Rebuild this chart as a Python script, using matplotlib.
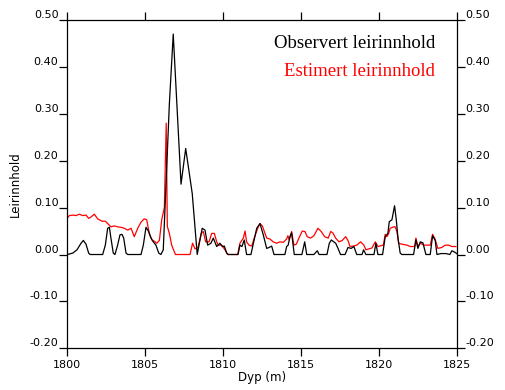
import matplotlib
matplotlib.use("Agg")
import matplotlib.pyplot as plt
from matplotlib.ticker import FormatStrFormatter

plt.rcParams['axes.unicode_minus'] = False

# observed clay content (depth in m, fraction)
obs_depth = [1800.00, 1800.35, 1800.62, 1800.88, 1801.03, 1801.20, 1801.37, 1801.46,
             1802.27, 1802.44, 1802.59, 1802.70, 1802.80, 1802.95, 1803.06,
             1803.23, 1803.38, 1803.51, 1803.62, 1803.77, 1803.88,
             1804.73, 1804.88, 1805.05, 1805.22, 1805.37, 1805.52, 1805.69, 1805.87,
             1806.01, 1806.16, 1806.55, 1806.80, 1807.30, 1807.60, 1808.02, 1808.34,
             1808.66, 1808.84, 1809.01, 1809.22, 1809.37, 1809.59, 1809.80, 1809.95,
             1810.08, 1810.23, 1810.33, 1810.96, 1811.08, 1811.21, 1811.36, 1811.51,
             1811.79, 1811.92, 1812.16, 1812.37, 1812.58, 1812.80, 1812.95, 1813.12,
             1813.27, 1813.97, 1814.08, 1814.18, 1814.29, 1814.40, 1814.57,
             1815.06, 1815.24, 1815.37, 1815.83, 1816.05, 1816.16,
             1816.67, 1816.82, 1816.95, 1817.07, 1817.23, 1817.38, 1817.54,
             1817.83, 1818.02, 1818.22, 1818.40, 1818.58, 1818.92, 1819.02, 1819.17,
             1819.69, 1819.81, 1819.94, 1820.24, 1820.41, 1820.58, 1820.67, 1820.84,
             1821.01, 1821.12, 1821.23, 1821.37, 1821.48, 1822.23, 1822.38, 1822.51,
             1822.66, 1822.83, 1823.02, 1823.30, 1823.45, 1823.62, 1823.73,
             1823.99, 1824.31, 1824.56, 1824.69, 1824.87, 1825.00]
obs_clay = [0.000, 0.003, 0.010, 0.024, 0.030, 0.022, 0.003, 0.000,
            0.000, 0.020, 0.056, 0.058, 0.035, 0.003, 0.000,
            0.020, 0.042, 0.043, 0.035, 0.003, 0.000,
            0.000, 0.020, 0.058, 0.049, 0.035, 0.027, 0.020, 0.003,
            0.000, 0.010, 0.320, 0.470, 0.150, 0.226, 0.130, 0.000,
            0.056, 0.052, 0.020, 0.024, 0.035, 0.017, 0.024, 0.017,
            0.018, 0.003, 0.000, 0.000, 0.020, 0.017, 0.031, 0.000,
            0.000, 0.020, 0.056, 0.066, 0.042, 0.013, 0.015, 0.018,
            0.000, 0.000, 0.017, 0.020, 0.038, 0.046, 0.000,
            0.000, 0.027, 0.000, 0.000, 0.008, 0.000,
            0.000, 0.024, 0.031, 0.028, 0.024, 0.013, 0.000,
            0.000, 0.015, 0.013, 0.017, 0.000, 0.000, 0.010, 0.000,
            0.000, 0.024, 0.000, 0.000, 0.038, 0.045, 0.070, 0.074,
            0.104, 0.074, 0.035, 0.003, 0.000, 0.000, 0.031, 0.013,
            0.027, 0.025, 0.000, 0.000, 0.040, 0.030, 0.000,
            0.002, 0.002, 0.000, 0.008, 0.005, 0.002]

# estimated clay content
est_depth = [1800.00, 1800.13, 1800.35, 1800.56, 1800.77, 1800.99, 1801.20, 1801.37,
             1801.52, 1801.73, 1801.95, 1802.23, 1802.44, 1802.59, 1802.80, 1803.02,
             1803.23, 1803.45, 1803.66, 1803.88, 1804.09, 1804.30, 1804.52, 1804.73,
             1804.94, 1805.10, 1805.26, 1805.44, 1805.60, 1805.74, 1805.91, 1806.06,
             1806.23, 1806.35, 1806.42, 1806.55, 1806.70, 1806.94, 1807.88, 1808.04,
             1808.20, 1808.39, 1808.60, 1808.73, 1808.88, 1809.10, 1809.27, 1809.44,
             1809.59, 1809.69, 1809.91, 1810.12, 1810.30, 1810.94, 1811.08, 1811.30,
             1811.41, 1811.51, 1811.66, 1811.84, 1812.00, 1812.22, 1812.37, 1812.52,
             1812.69, 1812.80, 1813.01, 1813.22, 1813.44, 1813.65, 1813.87, 1814.08,
             1814.16, 1814.25, 1814.40, 1814.55, 1814.70, 1814.87, 1815.08, 1815.26,
             1815.40, 1815.62, 1815.83, 1816.09, 1816.30, 1816.52, 1816.75, 1816.91,
             1817.05, 1817.23, 1817.44, 1817.65, 1817.87, 1818.02, 1818.15, 1818.36,
             1818.58, 1818.83, 1819.04, 1819.17, 1819.36, 1819.56, 1819.77, 1819.94,
             1820.15, 1820.29, 1820.41, 1820.52, 1820.63, 1820.73, 1820.95, 1821.05,
             1821.16, 1821.27, 1821.48, 1821.80, 1822.02, 1822.30, 1822.38, 1822.51,
             1822.66, 1822.88, 1823.09, 1823.30, 1823.45, 1823.62, 1823.79, 1824.04,
             1824.26, 1824.48, 1824.69, 1824.95]
est_clay = [0.078, 0.083, 0.084, 0.083, 0.086, 0.083, 0.084, 0.077,
            0.080, 0.086, 0.076, 0.071, 0.071, 0.066, 0.059, 0.061,
            0.059, 0.058, 0.056, 0.052, 0.056, 0.038, 0.056, 0.069,
            0.076, 0.074, 0.045, 0.031, 0.028, 0.024, 0.030, 0.074,
            0.100, 0.280, 0.060, 0.045, 0.020, 0.000, 0.000, 0.024,
            0.012, 0.015, 0.045, 0.049, 0.027, 0.027, 0.045, 0.045,
            0.027, 0.020, 0.020, 0.010, 0.000, 0.000, 0.024, 0.035,
            0.050, 0.027, 0.020, 0.018, 0.035, 0.056, 0.066, 0.061,
            0.045, 0.035, 0.033, 0.027, 0.024, 0.027, 0.026, 0.033,
            0.040, 0.031, 0.049, 0.020, 0.022, 0.035, 0.050, 0.049,
            0.038, 0.035, 0.040, 0.056, 0.049, 0.038, 0.035, 0.049,
            0.046, 0.035, 0.027, 0.030, 0.038, 0.030, 0.017, 0.018,
            0.020, 0.027, 0.020, 0.010, 0.012, 0.014, 0.027, 0.017,
            0.019, 0.020, 0.043, 0.038, 0.045, 0.056, 0.059, 0.059,
            0.049, 0.024, 0.022, 0.020, 0.017, 0.017, 0.035, 0.017,
            0.024, 0.020, 0.020, 0.020, 0.043, 0.032, 0.013, 0.015,
            0.020, 0.020, 0.017, 0.017]

x_ticks = [1800, 1805, 1810, 1815, 1820, 1825]
y_ticks = [-0.2, -0.1, 0.0, 0.1, 0.2, 0.3, 0.4, 0.5]

fig = plt.figure(figsize=(5.05, 3.9), dpi=100)
ax = fig.add_axes([0.1333, 0.1069, 0.7711, 0.8418])

ax.plot(est_depth, est_clay, color='#ff0000', lw=0.9)
ax.plot(obs_depth, obs_clay, color='black', lw=0.9)

ax.set_xlim(1800, 1825)
ax.set_ylim(-0.2, 0.5)
ax.set_xticks(x_ticks)
ax.set_yticks(y_ticks)
ax.yaxis.set_major_formatter(FormatStrFormatter('%.2f'))

for sp in ax.spines.values():
    sp.set_linewidth(0.9)

ax.tick_params(axis='both', direction='out', length=5.8, width=0.9, labelsize=8)
ax.tick_params(axis='x', top=True, labeltop=False, pad=2.5)
ax.tick_params(axis='y', right=True, labelright=True, pad=0.6)
for lab in ax.get_yticklabels() + ax.yaxis.get_ticklabels(which='major'):
    lab.set_va('bottom')
for t in ax.yaxis.get_major_ticks():
    t.label1.set_va('bottom')
    t.label2.set_va('bottom')

ax.set_xlabel('Dyp (m)', fontsize=8.5, labelpad=1)
fig.text(15 / 505, 0.528, 'Leirinnhold', rotation=90, fontsize=8.5,
         ha='center', va='center')

ax.text(0.944, 0.914, 'Observert leirinnhold', transform=ax.transAxes,
        ha='right', va='baseline', fontsize=13.5, family='Liberation Serif',
        color='black')
ax.text(0.944, 0.829, 'Estimert leirinnhold', transform=ax.transAxes,
        ha='right', va='baseline', fontsize=13.5, family='Liberation Serif',
        color='#ff0000')

fig.savefig('out.png', dpi=100)
